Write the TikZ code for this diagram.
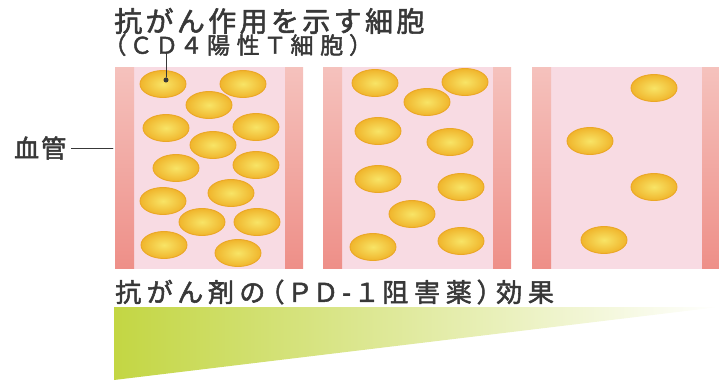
\documentclass[tikz,border=0pt]{standalone}
\usepackage{fontspec}
\usepackage{xcolor}
\usepackage{tikz}
\usetikzlibrary{shapes.geometric,positioning}
\newfontfamily\jpfont[FakeBold=2]{Noto Sans CJK JP}
\newfontfamily\jppalt[FakeBold=2,RawFeature=+palt]{Noto Sans CJK JP}
\definecolor{ink}{HTML}{383838}
\definecolor{wallhi}{HTML}{F5C2BD}
\definecolor{walllo}{HTML}{EE8F88}
\definecolor{lumenedge}{HTML}{F8DBE3}
\definecolor{lumenmid}{HTML}{FDF3F6}
\definecolor{cellin}{HTML}{F8E466}
\definecolor{cellout}{HTML}{F0B52C}
\definecolor{cellrim}{HTML}{EBA726}
\definecolor{lime}{HTML}{C3D643}

\begin{document}
\begin{tikzpicture}[x=1pt, y=-1pt, line cap=round, line join=round,
    tcell/.style={ellipse, minimum width=46pt, minimum height=27pt, inner sep=0pt,
                  draw=cellrim, line width=0.9pt, shading=radial,
                  inner color=cellin, outer color=cellout},
    label/.style={ink, inner sep=0pt, anchor=west}]
   \useasboundingbox (0,0) rectangle (719,380); % page frame in px

   % three vessels: wall | lumen | wall
   \foreach \vx in {115,323,532} {
      \shade[left color=lumenedge, middle color=lumenmid, right color=lumenedge]
         (\vx+19,67) rectangle (\vx+170,268);
      \shade[top color=wallhi, bottom color=walllo] (\vx,67) rectangle (\vx+19,268);
      \shade[top color=wallhi, bottom color=walllo] (\vx+170,67) rectangle (\vx+188,268);
   }

   % T cells, many -> few
   \foreach \cx/\cy [count=\i] in {163/84,243/84,209/105,166/128,256/127,213/145,
         176/168,256/165,231/193,163/201,202/222,257/222,164/245,238/253}
      \node[tcell] (a\i) at (\cx,\cy) {};
   \foreach \cx/\cy [count=\i] in {375/83,465/82,427/102,378/131,450/142,
         378/179,461/187,412/214,373/247,461/241}
      \node[tcell] (b\i) at (\cx,\cy) {};
   \foreach \cx/\cy [count=\i] in {654/88,590/141,654/187,604/240}
      \node[tcell] (c\i) at (\cx,\cy) {};

   % labels
   \node[label, font=\jpfont\fontsize{28}{32}\selectfont] (title) at (114,21)
      {\addfontfeatures{LetterSpace=12}抗がん作用を示す細胞};
   \node[label, font=\jppalt\fontsize{23}{27}\selectfont] (subtitle) at (114,45)
      {\addfontfeatures{LetterSpace=29}（ＣＤ４陽性Ｔ細胞）};
   \node[label, font=\jpfont\fontsize{25}{29}\selectfont] (vessel) at (14,148)
      {\addfontfeatures{LetterSpace=8}血管};
   \node[label, font=\jppalt\fontsize{26}{30}\selectfont] (drug) at (115,292)
      {\addfontfeatures{LetterSpace=22}抗がん剤の（ＰＤ-１阻害薬）効果};

   % leader lines
   \node[circle, fill=ink, inner sep=0pt, minimum size=5pt] (dot) at (166,80) {};
   \coordinate (lead) at (166,53);
   \draw[ink, line width=0.8pt] (dot) -- (lead);
   \coordinate (wall) at (113,148);
   \draw[ink, line width=0.8pt, shorten <=5pt] (vessel.east) -- (wall);

   % effect wedge
   \shade[left color=lime, right color=white] (114,307) -- (719,307) -- (114,380) -- cycle;
\end{tikzpicture}
\end{document}
